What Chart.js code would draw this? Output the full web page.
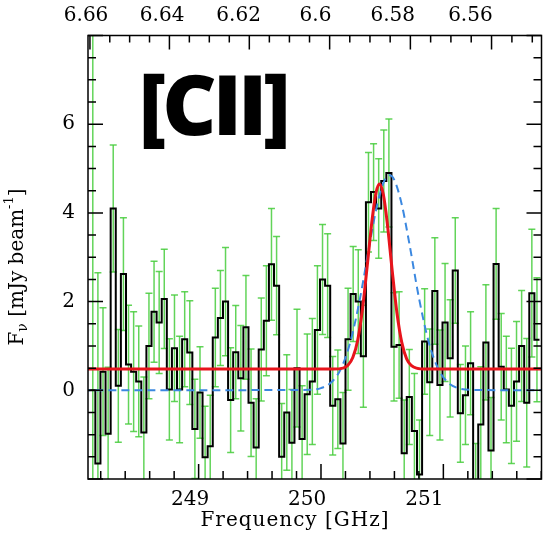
<!DOCTYPE html>
<html>
<head>
<meta charset="utf-8">
<script src="https://cdn.jsdelivr.net/npm/chart.js@4.4.1/dist/chart.umd.min.js"></script>
<style>
  html, body { margin: 0; padding: 0; background: #fff; }
</style>
</head>
<body>
<canvas id="ciiChart" width="547" height="541"></canvas>
<script>
// channel grid of the spectrum (GHz)
const chanStart = 248.0726;   // left edge of first channel
const chanWidth = 0.04172;

// flux per channel (mJy/beam)
const flux = [0.0, 0.0, -1.65, 0.42, -0.98, 4.1, 0.1, 2.62, 0.58, 0.42, 0.2,
  -0.95, 1.0, 1.77, 1.53, 2.06, 0.02, 0.95, 0.02, 1.15, 0.85,
  -0.87, -0.05, -1.51, -1.26, 1.19, 1.63, 2.0, -0.22, 0.86, 0.27,
  1.42, -0.28, -1.29, 0.92, 1.57, 2.84, 2.36, -1.5, -0.5, -1.18,
  0.5, -1.1, -0.09, 0.2, 1.36, 2.5, 2.36, -0.35, -0.2, -1.2,
  1.15, 2.17, 2.0, 0.77, 4.24, 4.47, 4.1, 4.72, 4.9, 0.98,
  1.02, -1.42, -0.15, -0.92, -1.9, 1.1, 0.18, 2.24, 0.12, 1.53,
  0.72, 2.7, -0.52, -0.11, 0.61, -2.4, -0.77, 1.08, -1.36, 2.85,
  0.53, 0.02, -0.35, 0.2, 1.0, -0.28, 2.19, 1.14];

const fluxErr = [9, 9, 4.3, 1.44, 1.5, 1.43, 1.27, 1.27, 1.34, 1.35, 1.25,
  1.25, 1.19, 1.14, 1.15, 1.12, 1.14, 1.2, 1.2, 1.07, 1.17,
  1.12, 1.03, 1.15, 1.15, 1.11, 1.07, 1.22, 1.18, 1.05, 1.19,
  1.17, 1.21, 1.1, 1.16, 1.24, 1.26, 1.11, 1.2, 1.3, 1.2,
  1.33, 1.2, 1.36, 1.42, 1.45, 1.24, 1.17, 1.11, 1.11, 1.15,
  1.15, 1.07, 1.17, 1.15, 1.12, 1.09, 1.12, 1.15, 1.22, 1.22,
  1.2, 1.2, 1.07, 1.3, 1.23, 1.19, 1.2, 1.2, 1.24, 1.33,
  1.32, 1.19, 1.1, 1.11, 1.16, 1.2, 1.3, 1.3, 1.2, 1.25,
  1.2, 1.2, 1.3, 1.35, 1.25, 1.45, 1.44, 1.4];

// red fit (gaussian + continuum), sampled from the plot
const fitFreq = [248.05, 250.10, 250.18, 250.22, 250.26, 250.30, 250.34, 250.38, 250.42, 250.45, 250.478,
  250.51, 250.54, 250.58, 250.62, 250.66, 250.70, 250.74, 250.78, 250.86, 251.85];
const fitFlux = [0.48, 0.48, 0.50, 0.565, 0.74, 1.13, 1.85, 2.86, 3.90, 4.46, 4.65,
  4.41, 3.81, 2.75, 1.76, 1.08, 0.71, 0.555, 0.50, 0.48, 0.48];

// blue dashed curve, sampled from the plot
const modelFreq = [248.05, 249.90, 250.00, 250.08, 250.16, 250.24, 250.32, 250.40, 250.46, 250.52, 250.56,
  250.60, 250.66, 250.72, 250.80, 250.88, 250.96, 251.04, 251.12, 251.22, 251.85];
const modelFlux = [0, 0.01, 0.05, 0.17, 0.47, 1.09, 2.09, 3.34, 4.19, 4.74, 4.85,
  4.74, 4.19, 3.34, 2.09, 1.09, 0.47, 0.17, 0.05, 0.01, 0];

const freqTicks = [249, 250, 251];
const zTicks = [6.56, 6.58, 6.6, 6.62, 6.64, 6.66];
const fluxTicks = [0, 2, 4, 6];
const restFreq = 1900.537; // [CII] 158um in GHz

const histPts = flux.map((v, i) => ({x: chanStart + i * chanWidth, y: v}));
histPts.push({x: chanStart + flux.length * chanWidth, y: flux[flux.length - 1]});

const errPts = [];
flux.forEach((v, i) => {
  const c = chanStart + (i + 0.5) * chanWidth;
  errPts.push({x: c, y: v - fluxErr[i]}, {x: c, y: v + fluxErr[i]}, {x: c, y: null});
});

const green = 'rgba(70,205,60,0.85)';
const serif = '"DejaVu Serif", serif';

// frame, inward ticks, labels and texts
const framePlugin = {
  id: 'frame',
  afterDatasetsDraw(chart) {
    const {ctx, chartArea: a, scales: {x, y}} = chart;
    ctx.save();
    ctx.strokeStyle = '#000';
    ctx.lineWidth = 1.5;
    ctx.strokeRect(a.left, a.top, a.right - a.left, a.bottom - a.top);

    ctx.beginPath();
    for (let k = Math.ceil(x.min * 5); k <= Math.floor(x.max * 5); k++) {
      const px = x.getPixelForValue(k / 5);
      const len = k % 5 === 0 ? 15 : 8;
      ctx.moveTo(px, a.bottom); ctx.lineTo(px, a.bottom - len);
    }
    const zMin = restFreq / x.max - 1, zMax = restFreq / x.min - 1;
    for (let k = Math.ceil(zMin * 200); k <= Math.floor(zMax * 200); k++) {
      const px = x.getPixelForValue(restFreq / (1 + k / 200));
      const len = k % 4 === 0 ? 14 : 7;
      ctx.moveTo(px, a.top); ctx.lineTo(px, a.top + len);
    }
    for (let k = Math.ceil(y.min * 2); k <= Math.floor(y.max * 2); k++) {
      const py = y.getPixelForValue(k / 2);
      const len = k % 4 === 0 ? 15 : 8;
      ctx.moveTo(a.left, py); ctx.lineTo(a.left + len, py);
      ctx.moveTo(a.right, py); ctx.lineTo(a.right - len, py);
    }
    ctx.stroke();

    // tick labels sit a bit left of their ticks in the original (text scaled about the page origin)
    ctx.fillStyle = '#000';
    ctx.font = '20px ' + serif;
    ctx.textAlign = 'center';
    ctx.textBaseline = 'middle';
    freqTicks.forEach(f => ctx.fillText(String(f), 0.957 * x.getPixelForValue(f), 500));
    zTicks.forEach(z => ctx.fillText(String(z), 0.957 * x.getPixelForValue(restFreq / (1 + z)), 16));

    ctx.letterSpacing = '1px';
    ctx.fillText('Frequency [GHz]', 295, 521);
    ctx.letterSpacing = '0px';

    // y title with sub/superscripts
    const parts = [['F', 20, 0], ['\u03BD', 14, 5], [' [mJy beam', 20, 0], ['-1', 13, -8], [']', 20, 0]];
    ctx.save();
    ctx.translate(18, 267);
    ctx.rotate(-Math.PI / 2);
    ctx.textAlign = 'left';
    let w = 0;
    parts.forEach(p => { ctx.font = p[1] + 'px ' + serif; w += ctx.measureText(p[0]).width; });
    let cx = -w / 2;
    parts.forEach(p => {
      ctx.font = p[1] + 'px ' + serif;
      ctx.fillText(p[0], cx, p[2]);
      cx += ctx.measureText(p[0]).width;
    });
    ctx.restore();

    ctx.font = '800 84px "Open Sans", sans-serif';
    ctx.textAlign = 'left';
    ctx.textBaseline = 'alphabetic';
    ctx.letterSpacing = '-4px';
    ctx.fillText('[CII]', 139, 135);
    ctx.restore();
  }
};

new Chart(document.getElementById('ciiChart'), {
  type: 'line',
  data: {
    datasets: [
      {
        label: 'fit',
        data: fitFreq.map((f, i) => ({x: f, y: fitFlux[i]})),
        borderColor: '#e8141c',
        borderWidth: 3,
        pointRadius: 0,
        cubicInterpolationMode: 'monotone',
        order: 0
      },
      {
        label: 'model',
        data: modelFreq.map((f, i) => ({x: f, y: modelFlux[i]})),
        borderColor: '#3b88e0',
        borderWidth: 2,
        borderDash: [8, 5],
        pointRadius: 0,
        cubicInterpolationMode: 'monotone',
        order: 1
      },
      {
        label: 'spectrum',
        data: histPts,
        borderColor: '#000',
        borderWidth: 2,
        stepped: true,
        pointRadius: 0,
        order: 2
      },
      {
        label: 'errors',
        data: errPts,
        borderColor: green,
        borderWidth: 1.5,
        spanGaps: false,
        pointStyle: 'line',
        pointRadius: 3.5,
        pointBorderWidth: 1.5,
        pointBorderColor: green,
        order: 3
      }
    ]
  },
  options: {
    responsive: false,
    animation: false,
    events: [],
    layout: { padding: { left: 0, right: -2, top: 35.5, bottom: 0 } },
    plugins: { legend: { display: false }, tooltip: { enabled: false } },
    scales: {
      x: {
        type: 'linear',
        min: 248.096,
        max: 251.802,
        grid: { display: false, drawTicks: false },
        border: { display: false },
        ticks: { display: false },
        afterFit: s => { s.height = 62; }
      },
      y: {
        min: -2,
        max: 8,
        grid: { display: false, drawTicks: false },
        border: { display: false },
        ticks: {
          stepSize: 2,
          autoSkip: false,
          padding: 13,
          color: '#000',
          font: { family: 'DejaVu Serif', size: 20 },
          callback: v => fluxTicks.includes(v) ? String(v) : ''
        },
        afterFit: s => { s.width = 88; }
      }
    }
  },
  plugins: [framePlugin]
});
</script>
</body>
</html>
